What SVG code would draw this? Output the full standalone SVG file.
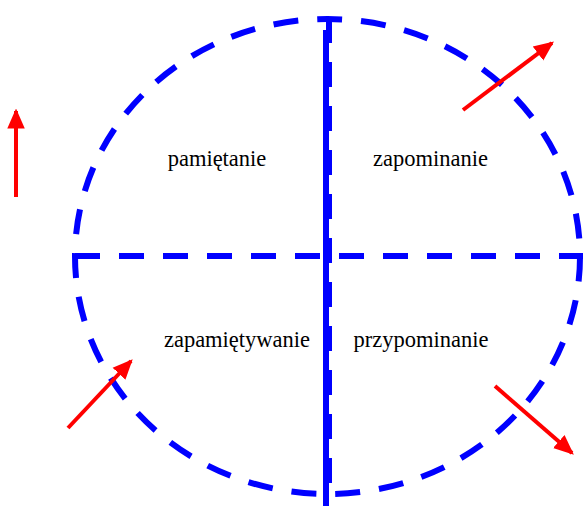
<svg xmlns="http://www.w3.org/2000/svg" width="583" height="506" viewBox="0 0 583 506">
<style>
.b{fill:none;stroke:#0000ff;stroke-width:6}
.d{stroke-dasharray:25 19}
.r{stroke:#ff0000;stroke-width:4;fill:none;marker-end:url(#ah)}
text{font-family:"Liberation Serif","Times New Roman",serif;font-size:22.5px;fill:#000;text-anchor:middle}
</style>
<defs>
<marker id="ah" markerUnits="userSpaceOnUse" markerWidth="20" markerHeight="20" viewBox="0 0 16 14" refX="14" refY="7" orient="auto">
<path d="M0,0 L16,7 L0,14 Z" fill="#ff0000"/>
</marker>
</defs>
<g id="connectors">
<ellipse class="b d" cx="327.5" cy="256.5" rx="252.5" ry="237.5"/>
<line class="b" x1="326" y1="30" x2="326" y2="506"/>
<line class="b d" x1="329" y1="18" x2="329" y2="494"/>
<line class="b d" x1="75" y1="256" x2="583" y2="256"/>
</g>
<g id="arrows">
<line class="r" x1="16" y1="197" x2="16" y2="111"/>
<line class="r" x1="463" y1="110" x2="552" y2="43"/>
<line class="r" x1="495" y1="386" x2="572" y2="453"/>
<line class="r" x1="68" y1="428" x2="131" y2="361"/>
</g>
<g id="n1"><text x="217" y="166">pamiętanie</text></g>
<g id="n2"><text x="430.5" y="166">zapominanie</text></g>
<g id="n3"><text x="237" y="347">zapamiętywanie</text></g>
<g id="n4"><text x="421" y="347">przypominanie</text></g>
</svg>
